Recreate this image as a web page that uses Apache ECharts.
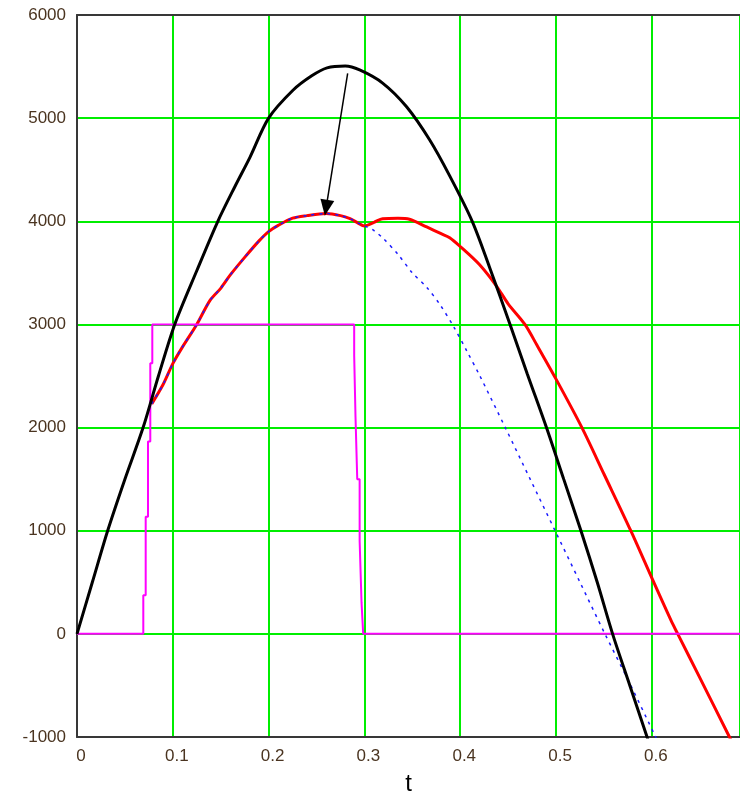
<!DOCTYPE html>
<html>
<head>
<meta charset="utf-8">
<script src="https://cdn.jsdelivr.net/npm/echarts@6/dist/echarts.min.js"></script>
<style>
  html, body { margin: 0; padding: 0; background: #fff; }
  #chart { width: 740px; height: 793px; }
</style>
</head>
<body>
<div id="chart"></div>
<script>
// Time axis range and tick spacing
const tMin = 0, tMax = 0.692, tStep = 0.1;
const vMin = -1000, vMax = 6000, vStep = 1000;

// Black curve
const blackT = [0, 0.016, 0.032, 0.05, 0.069, 0.085, 0.102, 0.125, 0.147, 0.165, 0.1805, 0.2, 0.2254, 0.245, 0.261, 0.28, 0.295, 0.319, 0.344, 0.368, 0.389, 0.4125, 0.43, 0.452, 0.47, 0.49, 0.508, 0.526, 0.543, 0.559, 0.577, 0.595, 0.61];
const blackV = [0, 500, 1000, 1500, 2000, 2500, 3000, 3520, 4000, 4340, 4620, 5000, 5270, 5410, 5487, 5505, 5467, 5340, 5110, 4790, 4440, 4000, 3570, 3000, 2520, 2000, 1500, 1000, 500, 0, -500, -1000, -1420];

// Red curve
const redT = [0.078, 0.09, 0.1, 0.11, 0.125, 0.139, 0.15, 0.16, 0.175, 0.19, 0.2, 0.21, 0.225, 0.24, 0.26, 0.275, 0.285, 0.293, 0.3, 0.31, 0.319, 0.335, 0.347, 0.365, 0.38, 0.389, 0.4, 0.42, 0.438, 0.45, 0.4675, 0.48, 0.5, 0.527, 0.55, 0.578, 0.601, 0.62, 0.627, 0.65, 0.681, 0.692];
const redV = [2230, 2420, 2620, 2780, 3000, 3236, 3350, 3480, 3650, 3810, 3900, 3960, 4030, 4055, 4075, 4055, 4025, 3985, 3955, 3990, 4025, 4030, 4020, 3945, 3880, 3840, 3755, 3580, 3370, 3200, 3000, 2800, 2470, 2000, 1550, 1000, 520, 130, 0, -425, -1000, -1220];

// Blue dashed curve
const blueT = [0.078, 0.09, 0.1, 0.11, 0.125, 0.139, 0.15, 0.16, 0.175, 0.19, 0.2, 0.21, 0.225, 0.24, 0.26, 0.275, 0.285, 0.293, 0.3, 0.309, 0.32, 0.335, 0.35, 0.365, 0.379, 0.393, 0.407, 0.42, 0.447, 0.473, 0.499, 0.525, 0.551, 0.578, 0.604, 0.62];
const blueV = [2230, 2420, 2620, 2780, 3000, 3236, 3350, 3480, 3650, 3810, 3900, 3960, 4030, 4055, 4075, 4055, 4025, 3985, 3955, 3916, 3830, 3680, 3500, 3360, 3190, 2980, 2740, 2510, 2000, 1500, 1000, 500, 0, -500, -1000, -1300];

// Magenta pulse
const pulseT = [0, 0.0692, 0.0692, 0.0717, 0.0717, 0.0741, 0.0741, 0.0765, 0.0765, 0.0786, 0.0786, 0.2893, 0.2893, 0.2907, 0.2907, 0.2925, 0.2925, 0.295, 0.295, 0.297, 0.297, 0.2987, 0.2987, 0.692];
const pulseV = [0, 0, 375, 375, 1136, 1136, 1864, 1864, 2624, 2624, 3000, 3000, 2700, 2700, 2100, 2100, 1500, 1500, 900, 900, 300, 300, 0, 0];

// Arrow annotation endpoints (t, value)
const arrowFrom = [0.2825, 5435];
const arrowTo = [0.26, 4130];

const zip = (xs, ys) => xs.map((x, i) => [x, ys[i]]);

const labelColor = '#4a3420';
const gridGreen = '#00ee00';
const axisDark = '#383838';

const chart = echarts.init(document.getElementById('chart'), null, { renderer: 'canvas' });

chart.setOption({
  animation: false,
  backgroundColor: '#ffffff',
  grid: { left: 77, right: 0, top: 15, bottom: 56, containLabel: false, outerBoundsMode: 'none' },
  xAxis: [
    {
      type: 'value',
      min: tMin, max: tMax, interval: tStep,
      name: 't',
      nameLocation: 'middle',
      nameGap: 35,
      nameTextStyle: { fontFamily: 'Liberation Sans', fontSize: 24, color: '#000' },
      axisLine: { show: true, onZero: false, lineStyle: { color: axisDark, width: 2 } },
      axisTick: { show: false },
      splitLine: { show: true, lineStyle: { color: gridGreen, width: 2 } },
      axisLabel: {
        fontFamily: 'Liberation Sans', fontSize: 17, color: labelColor, margin: 11,
        padding: [0, 0, 0, 8],
        showMaxLabel: false,
        formatter: v => {
          const r = Math.round(v * 10) / 10;
          return Math.abs(r - v) < 1e-6 ? String(r) : '';
        }
      }
    },
    {
      type: 'value',
      position: 'top',
      min: tMin, max: tMax, interval: tStep,
      axisLine: { show: true, onZero: false, lineStyle: { color: axisDark, width: 2 } },
      axisTick: { show: false },
      axisLabel: { show: false },
      splitLine: { show: false }
    }
  ],
  yAxis: {
    type: 'value',
    min: vMin, max: vMax, interval: vStep,
    axisLine: { show: true, onZero: false, lineStyle: { color: axisDark, width: 2 } },
    axisTick: { show: false },
    splitLine: { show: true, lineStyle: { color: gridGreen, width: 2 } },
    axisLabel: {
      fontFamily: 'Liberation Sans', fontSize: 17, color: labelColor, margin: 11,
      formatter: v => String(v)
    }
  },
  series: [
    {
      name: 'red', type: 'line', data: zip(redT, redV), showSymbol: false, z: 3,
      smooth: 0.3,
      lineStyle: { color: '#ff0000', width: 3 }
    },
    {
      name: 'blue', type: 'line', data: zip(blueT, blueV), showSymbol: false, z: 4,
      smooth: 0.3,
      lineStyle: { color: '#1a1aff', width: 1.5, type: [3, 5] }
    },
    {
      name: 'pulse', type: 'line', data: zip(pulseT, pulseV), showSymbol: false, z: 5,
      lineStyle: { color: '#ff00ff', width: 2 }
    },
    {
      name: 'black', type: 'line', data: zip(blackT, blackV), showSymbol: false, z: 6,
      smooth: 0.3,
      lineStyle: { color: '#000000', width: 3 },
      markLine: {
        silent: true,
        animation: false,
        symbol: ['none', 'triangle'],
        symbolSize: [14, 16],
        label: { show: false },
        lineStyle: { color: '#000', width: 1.5, type: 'solid' },
        emphasis: { disabled: true },
        data: [[{ coord: arrowFrom }, { coord: arrowTo }]]
      }
    }
  ]
});
</script>
</body>
</html>
